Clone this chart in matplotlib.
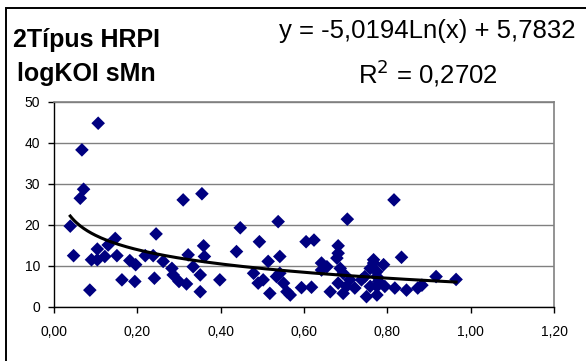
import numpy as np
import matplotlib
matplotlib.use("Agg")
import matplotlib.pyplot as plt
from matplotlib.patches import Rectangle

plt.rcParams['font.family'] = ['Liberation Sans', 'DejaVu Sans']

# scatter points
x_vals = [0.039, 0.047, 0.067, 0.063, 0.071, 0.086, 0.106, 0.090, 0.104, 0.104,
          0.122, 0.130, 0.151, 0.147, 0.163, 0.182, 0.194, 0.196, 0.219, 0.238,
          0.241, 0.245, 0.262, 0.283, 0.286, 0.300, 0.310, 0.318, 0.322, 0.334,
          0.351, 0.351, 0.355, 0.359, 0.361, 0.398, 0.438, 0.447, 0.479, 0.490,
          0.493, 0.502, 0.514, 0.518, 0.538, 0.542, 0.542, 0.534, 0.551, 0.559,
          0.567, 0.594, 0.618, 0.605, 0.624, 0.642, 0.642, 0.655, 0.682, 0.682,
          0.679, 0.704, 0.687, 0.694, 0.663, 0.694, 0.682, 0.702, 0.722, 0.710,
          0.759, 0.767, 0.767, 0.750, 0.759, 0.738, 0.746, 0.775, 0.791, 0.775,
          0.779, 0.794, 0.775, 0.775, 0.816, 0.834, 0.818, 0.846, 0.873, 0.883,
          0.917, 0.965]
y_vals = [19.6, 12.4, 38.2, 26.4, 28.6, 4.0, 44.7, 11.4, 11.4, 14.0,
          12.2, 15.0, 12.4, 16.6, 6.5, 11.2, 6.1, 10.2, 12.4, 12.4,
          6.9, 17.7, 11.0, 9.3, 7.7, 6.1, 26.0, 5.5, 12.6, 9.7,
          7.7, 3.6, 27.5, 14.8, 12.2, 6.5, 13.4, 19.2, 8.1, 5.7,
          15.8, 6.5, 11.0, 3.2, 20.7, 12.2, 8.1, 7.3, 5.7, 3.6,
          2.8, 4.6, 4.7, 15.8, 16.2, 10.6, 8.9, 9.7, 14.8, 13.0,
          11.8, 21.3, 9.3, 8.1, 3.6, 3.2, 5.7, 4.9, 4.5, 6.5,
          9.3, 10.6, 11.4, 2.4, 4.9, 6.5, 7.3, 8.5, 10.2, 7.3,
          6.1, 4.9, 4.9, 2.8, 26.0, 12.0, 4.5, 4.0, 4.5, 5.2,
          7.3, 6.6]

# log trendline coefficients shown on the chart
slope = -5.0194
intercept = 5.7832

x_ticks = [0.0, 0.2, 0.4, 0.6, 0.8, 1.0, 1.2]
y_ticks = [0, 10, 20, 30, 40, 50]

fig = plt.figure(figsize=(5.86, 3.61), dpi=100)
ax = fig.add_axes([54/586, (361 - 306.5)/361, 500/586, 205/361])

ax.scatter(x_vals, y_vals, marker='D', s=48, color='#000080', edgecolors='none', zorder=3)

xt = np.linspace(min(x_vals), max(x_vals), 200)
ax.plot(xt, slope*np.log(xt) + intercept, color='black', linewidth=2.2, zorder=4)

ax.set_xlim(0, 1.2)
ax.set_ylim(0, 50)
ax.set_xticks(x_ticks)
ax.set_yticks(y_ticks)
ax.set_xticklabels([f"{v:.2f}".replace('.', ',') for v in x_ticks], fontsize=10)
ax.set_yticklabels([str(v) for v in y_ticks], fontsize=10)
ax.tick_params(axis='x', direction='out', length=4, width=1, color='black', pad=9)
ax.tick_params(axis='y', direction='out', length=4, width=1, color='black', pad=6)
ax.yaxis.grid(True, color='#808080', linewidth=1)
ax.set_axisbelow(True)
for s in ['top', 'right']:
    ax.spines[s].set_color('#808080')
    ax.spines[s].set_linewidth(1.2)
for s in ['left', 'bottom']:
    ax.spines[s].set_color('black')
    ax.spines[s].set_linewidth(1)

fig.text(86.5/586, 1 - 57/361, "2Típus HRPI\nlogKOI sMn", ha='center', va='center',
         fontsize=18, fontweight='bold', linespacing=1.5)
fig.text(427.5/586, 1 - 54/361, "y = -5,0194Ln(x) + 5,7832\nR$^2$ = 0,2702", ha='center', va='center',
         fontsize=18.5, linespacing=1.55)

# outer chart border (only left and top are inside the picture)
fig.patches.append(Rectangle((5.5/586, -0.1), 1.2, 1 - 7.5/361 + 0.1, transform=fig.transFigure,
                             fill=False, edgecolor='black', linewidth=1.4))

fig.savefig("out.png", dpi=100)
